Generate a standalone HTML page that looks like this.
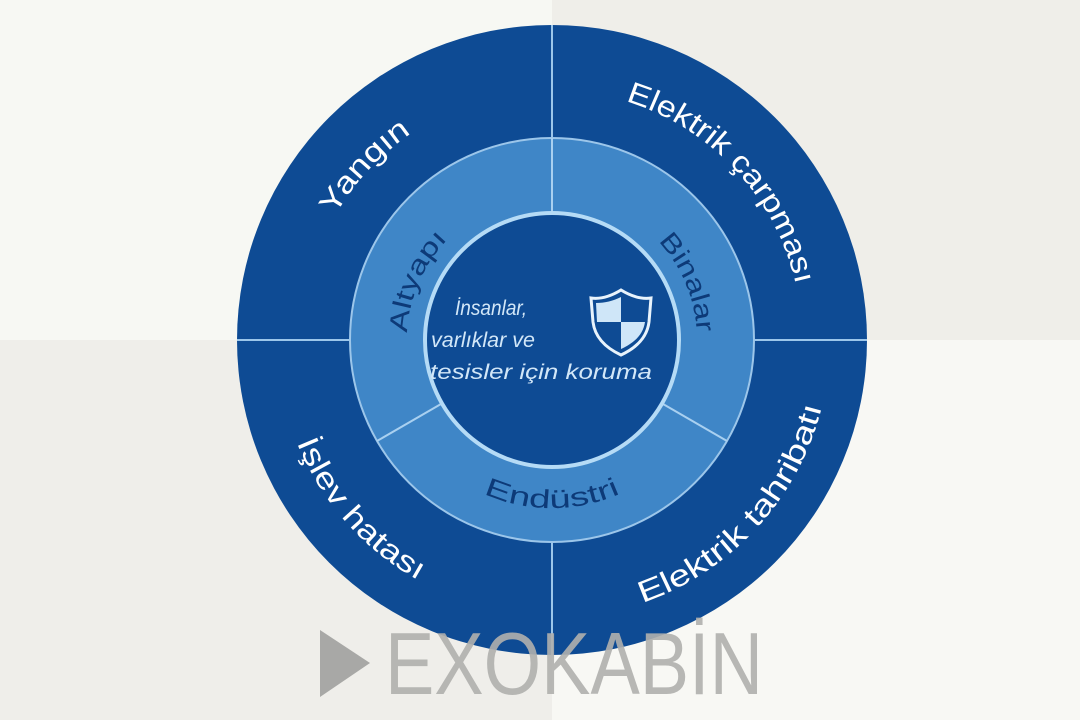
<!DOCTYPE html>
<html><head><meta charset="utf-8"><style>
html,body{margin:0;padding:0;width:1080px;height:720px;overflow:hidden;background:#f7f8f3}
svg{display:block}
</style></head><body>
<svg width="1080" height="720" viewBox="0 0 1080 720" xmlns="http://www.w3.org/2000/svg" font-family="Liberation Sans, sans-serif">
<rect x="0" y="0" width="552" height="340" fill="#f7f8f3"/>
<rect x="552" y="0" width="528" height="340" fill="#efeee9"/>
<rect x="0" y="340" width="552" height="380" fill="#efeeea"/>
<rect x="552" y="340" width="528" height="380" fill="#f8f8f4"/>
<defs>
<path id="cw250" d="M302,340 A250,250 0 1 1 802,340 A250,250 0 1 1 302,340"/>
<path id="ccw275" d="M277,340 A275,275 0 1 0 827,340 A275,275 0 1 0 277,340"/>
<path id="ccw278" d="M274,340 A278,278 0 1 0 830,340 A278,278 0 1 0 274,340"/>
<path id="cw145" d="M407,340 A145,145 0 1 1 697,340 A145,145 0 1 1 407,340"/>
<path id="ccw168" d="M384,340 A168,168 0 1 0 720,340 A168,168 0 1 0 384,340"/>
</defs>
<circle cx="552" cy="340" r="315" fill="#0e4b94"/>
<g stroke="#9cc6ea" stroke-width="2">
<line x1="552" y1="25" x2="552" y2="140"/>
<line x1="552" y1="540" x2="552" y2="655"/>
<line x1="237" y1="340" x2="352" y2="340"/>
<line x1="752" y1="340" x2="867" y2="340"/>
</g>
<circle cx="552" cy="340" r="202" fill="#3f86c7" stroke="#9cc6ea" stroke-width="2"/>
<g stroke="#a9d0f0" stroke-width="2">
<line x1="552" y1="138" x2="552" y2="212"/>
<line x1="441" y1="404" x2="377" y2="441"/>
<line x1="663" y1="404" x2="727" y2="441"/>
</g>
<circle cx="552" cy="340" r="127" fill="#0e4b94" stroke="#b5dbf6" stroke-width="4"/>
<g fill="#ffffff" font-size="30">
<text><textPath href="#cw250" startOffset="11.9%" text-anchor="middle" textLength="113" lengthAdjust="spacingAndGlyphs">Yangın</textPath></text>
<text><textPath href="#cw250" startOffset="38.1%" text-anchor="middle" textLength="262" lengthAdjust="spacingAndGlyphs">Elektrik çarpması</textPath></text>
<text><textPath href="#ccw275" startOffset="11.5%" text-anchor="middle" textLength="187" lengthAdjust="spacingAndGlyphs">İşlev hatası</textPath></text>
<text><textPath href="#ccw278" startOffset="38.2%" text-anchor="middle" textLength="277" lengthAdjust="spacingAndGlyphs">Elektrik tahribatı</textPath></text>
</g>
<g fill="#0d3a78" font-size="26">
<text><textPath href="#cw145" startOffset="6.5%" text-anchor="middle" textLength="104" lengthAdjust="spacingAndGlyphs">Altyapı</textPath></text>
<text><textPath href="#cw145" startOffset="43.6%" text-anchor="middle" textLength="101" lengthAdjust="spacingAndGlyphs">Binalar</textPath></text>
<text><textPath href="#ccw168" startOffset="25%" text-anchor="middle" textLength="141" lengthAdjust="spacingAndGlyphs">Endüstri</textPath></text>
</g>
<g fill="#d2e7f8" font-size="21" font-style="italic">
<text x="455" y="315" textLength="72" lengthAdjust="spacingAndGlyphs">İnsanlar,</text>
<text x="431" y="347" textLength="104" lengthAdjust="spacingAndGlyphs">varlıklar ve</text>
<text x="430" y="379" textLength="222" lengthAdjust="spacingAndGlyphs">tesisler için koruma</text>
</g>
<g>
<path d="M621,290 C608,298 598,299 591,298 L593,322 C595,338 606,348 621,355 C636,348 647,338 649,322 L651,298 C644,299 634,298 621,290 Z" fill="#0e4b94" stroke="#e8f3fc" stroke-width="3"/>
<path d="M621,297 L621,322 L597,322 L596,303 C605,303 613,301 621,297 Z" fill="#cfe6f8"/>
<path d="M621,322 L645,322 C643,335 634,343 621,349 Z" fill="#cfe6f8"/>
</g>
<polygon points="320,630 320,697 370,663" fill="#a8a8a6"/>
<text x="385" y="694" font-size="88" fill="#b0b0ae" textLength="378" lengthAdjust="spacingAndGlyphs" opacity="0.9">EXOKABİN</text>
</svg>
</body></html>
